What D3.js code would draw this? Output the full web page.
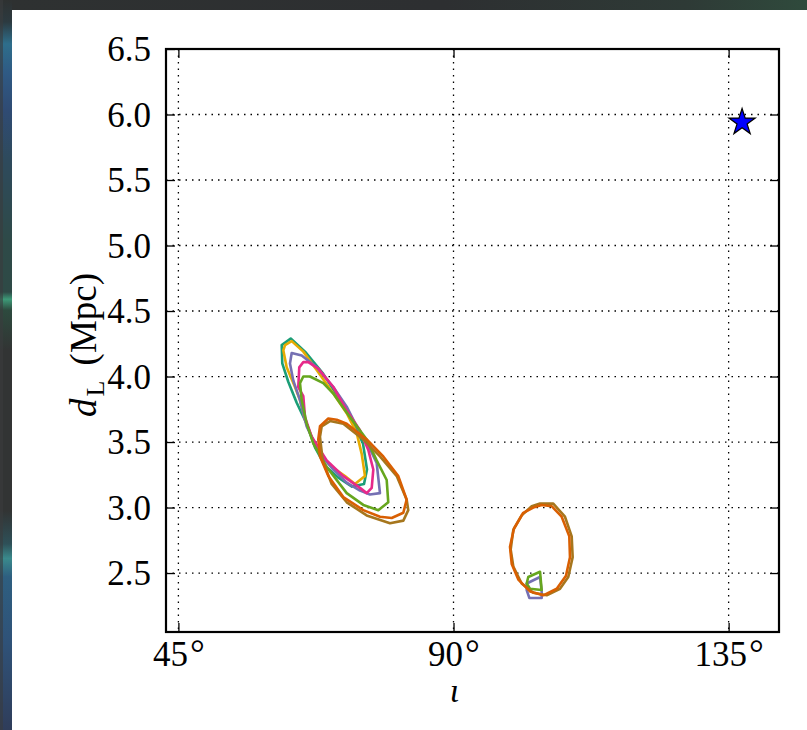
<!DOCTYPE html>
<html>
<head>
<meta charset="utf-8">
<script src="https://cdn.jsdelivr.net/npm/d3@7"></script>
<style>
  html, body { margin: 0; padding: 0; background: #fff; }
  svg { display: block; }
  svg text { font-family: "Liberation Serif", serif; }
</style>
</head>
<body>
<svg id="chart" width="807" height="730"></svg>
<script>
// Axis ticks
const xTicks = [45, 90, 135];            // inclination, degrees
const yTicks = [2.5, 3.0, 3.5, 4.0, 4.5, 5.0, 5.5, 6.0, 6.5]; // distance, Mpc

// Injected source position
const injection = [137.2, 5.94];

// Credible-region contours, [inclination (deg), d_L (Mpc)]
const tealRings = [[
  [63.37,4.29],[65.71,4.19],[68.70,4.02],[71.43,3.82],[73.39,3.67],[75.19,3.49],[75.85,3.29],
  [75.36,3.18],[73.39,3.16],[71.10,3.23],[68.98,3.32],[67.34,3.46],[65.98,3.64],[64.35,3.80],
  [62.97,3.96],[61.99,4.10],[61.90,4.24]
]];
const yellowRings = [[
  [63.53,4.27],[65.43,4.19],[67.62,4.05],[70.34,3.87],[72.53,3.72],[74.16,3.57],[74.98,3.41],
  [75.52,3.24],[73.88,3.18],[72.25,3.24],[70.07,3.31],[68.16,3.41],[66.80,3.54],[65.71,3.67],
  [64.89,3.82],[64.07,3.92],[62.71,4.07],[62.16,4.20],[62.44,4.24]
]];
const purpleRings = [[
  [63.53,4.18],[65.17,4.16],[67.62,4.07],[70.34,3.92],[72.53,3.77],[74.16,3.62],[76.01,3.48],
  [77.43,3.34],[77.97,3.11],[76.34,3.10],[74.70,3.13],[72.53,3.19],[70.34,3.29],[68.16,3.41],
  [65.98,3.62],[64.89,3.82],[63.79,3.97],[63.25,4.10]
], [
  [101.97,2.42],[104.15,2.47],[104.42,2.36],[104.42,2.31],[102.40,2.31],[101.97,2.37]
]];
const pinkRings = [[
  [65.43,4.11],[64.77,4.07],[64.61,3.92],[65.43,3.85],[65.71,3.69],[66.80,3.54],[69.26,3.36],
  [71.97,3.24],[74.70,3.15],[75.80,3.11],[76.62,3.15],[76.88,3.29],[76.06,3.44],[74.70,3.59],
  [72.53,3.74],[70.34,3.92],[67.88,4.06],[66.25,4.11]
]];
const greenRings = [[
  [65.43,4.00],[64.89,3.95],[65.17,3.82],[65.98,3.64],[67.06,3.49],[69.26,3.31],[72.53,3.11],
  [75.24,3.02],[77.70,2.98],[79.33,3.04],[79.07,3.21],[77.43,3.36],[75.80,3.52],[73.07,3.69],
  [70.34,3.87],[68.70,3.95],[66.52,4.00]
], [
  [102.23,2.47],[104.15,2.51],[104.42,2.37],[102.51,2.38],[101.97,2.42]
]];
const brownRings = [[
  [69.80,3.66],[68.44,3.62],[68.16,3.54],[68.60,3.36],[70.07,3.18],[72.53,3.04],[75.80,2.94],
  [79.61,2.88],[81.79,2.90],[82.60,2.98],[82.34,3.06],[80.71,3.24],[77.97,3.39],[75.24,3.52],
  [71.97,3.64]
], [
  [104.15,3.03],[106.32,3.03],[108.23,2.93],[109.33,2.78],[109.49,2.62],[108.77,2.47],[107.42,2.38],
  [105.24,2.33],[103.05,2.35],[101.15,2.42],[99.78,2.55],[99.35,2.68],[99.78,2.83],[101.15,2.94],
  [102.79,3.01]
]];
const orangeRings = [[
  [69.52,3.68],[68.16,3.62],[67.88,3.52],[68.16,3.39],[69.52,3.24],[71.97,3.08],[75.24,2.98],
  [77.97,2.93],[79.89,2.92],[81.79,2.96],[82.34,3.06],[80.97,3.24],[78.51,3.39],[75.80,3.52],
  [72.53,3.64],[70.89,3.67]
], [
  [104.42,3.02],[106.06,3.01],[107.69,2.93],[108.94,2.78],[109.05,2.62],[108.40,2.48],[106.88,2.38],
  [104.69,2.33],[102.51,2.36],[100.60,2.45],[99.52,2.57],[99.24,2.70],[99.89,2.84],[101.41,2.96],
  [103.05,3.00]
]];

const contourSeries = [
  { rings: tealRings,   color: "#1b9e77" },
  { rings: yellowRings, color: "#e6ab02" },
  { rings: purpleRings, color: "#7570b3" },
  { rings: pinkRings,   color: "#e7298a" },
  { rings: greenRings,  color: "#66a61e" },
  { rings: brownRings,  color: "#a6761d" },
  { rings: orangeRings, color: "#d95f02" }
];

const svg = d3.select("#chart");

// Dark surround along the top and left edges
const defs = svg.append("defs");
const edgeGrad = defs.append("linearGradient")
  .attr("id", "edgeGrad").attr("x1", 0).attr("y1", 0).attr("x2", 0).attr("y2", 1);
[
  [0.00, "#2e3131"], [0.03, "#2c3a40"], [0.06, "#2e6e8b"], [0.10, "#2f5a84"], [0.15, "#2f4b74"],
  [0.22, "#2e4a5c"], [0.33, "#2e4a48"], [0.40, "#2e4a46"], [0.41, "#3d9a78"], [0.425, "#2d4a3e"],
  [0.48, "#323434"], [0.70, "#323434"], [0.745, "#2e5058"], [0.765, "#3a8a8c"], [0.79, "#2e5f80"],
  [0.88, "#2f5278"], [1.00, "#2f3d5a"]
].forEach(([o, c]) => edgeGrad.append("stop").attr("offset", o).attr("stop-color", c));
const topGrad = defs.append("linearGradient")
  .attr("id", "topGrad").attr("x1", 0).attr("y1", 0).attr("x2", 1).attr("y2", 0);
[[0, "#2e3131"], [0.55, "#2d2f31"], [0.85, "#2e3a36"], [1, "#2f4a3c"]]
  .forEach(([o, c]) => topGrad.append("stop").attr("offset", o).attr("stop-color", c));

svg.append("rect").attr("x", 0).attr("y", 0).attr("width", 807).attr("height", 10)
  .attr("fill", "url(#topGrad)");
svg.append("rect").attr("x", 0).attr("y", 0).attr("width", 12).attr("height", 730)
  .attr("fill", "url(#edgeGrad)");
svg.append("rect").attr("x", 0).attr("y", 0).attr("width", 3).attr("height", 730)
  .attr("fill", "#3a3c3d").attr("opacity", 0.6);

// Plot area
const plot = { left: 166, top: 49, right: 779, bottom: 632 };
const rad2deg = 180 / Math.PI;
const x = d3.scaleLinear().domain([0.75 * rad2deg, 2.5 * rad2deg]).range([plot.left, plot.right]);
const y = d3.scaleLinear().domain([2.05, 6.5]).range([plot.bottom, plot.top]);

const serif = "Liberation Serif";

// Dotted grid
const grid = svg.append("g").attr("stroke", "#000").attr("stroke-width", 1.3)
  .attr("stroke-dasharray", "1.5,5").attr("fill", "none");
xTicks.forEach(t => grid.append("line")
  .attr("x1", x(t)).attr("x2", x(t)).attr("y1", plot.top).attr("y2", plot.bottom));
yTicks.forEach(t => grid.append("line")
  .attr("x1", plot.left).attr("x2", plot.right).attr("y1", y(t)).attr("y2", y(t)));

// Contours
const ringLine = d3.line().x(d => x(d[0])).y(d => y(d[1])).curve(d3.curveLinearClosed);
const contourG = svg.append("g").attr("fill", "none").attr("stroke-width", 2.6)
  .attr("stroke-linejoin", "round");
contourSeries.forEach(s => {
  contourG.selectAll(null).data(s.rings).enter().append("path")
    .attr("d", ringLine).attr("stroke", s.color);
});

// Injection marker
svg.append("path")
  .attr("d", d3.symbol().type(d3.symbolStar).size(215)())
  .attr("transform", `translate(${x(injection[0])},${y(injection[1])})`)
  .attr("fill", "#0000ff").attr("stroke", "#000").attr("stroke-width", 1.2)
  .attr("stroke-linejoin", "miter");

// Axes: inward ticks on all four sides, labels on bottom and left
const tickLen = 9;
const xAxisB = d3.axisBottom(x).tickValues(xTicks).tickSizeInner(-tickLen).tickSizeOuter(0)
  .tickFormat("");
const xAxisT = d3.axisTop(x).tickValues(xTicks).tickSizeInner(-tickLen).tickSizeOuter(0)
  .tickFormat("");
const yAxisL = d3.axisLeft(y).tickValues(yTicks).tickSizeInner(-tickLen).tickSizeOuter(0)
  .tickFormat(d3.format(".1f"));
const yAxisR = d3.axisRight(y).tickValues(yTicks).tickSizeInner(-tickLen).tickSizeOuter(0)
  .tickFormat("");

function styleAxis(g) {
  g.attr("font-family", serif).attr("font-size", 35);
  g.select(".domain").remove();
  g.selectAll(".tick line").attr("stroke", "#000").attr("stroke-width", 1.3);
  g.selectAll(".tick text").attr("fill", "#000");
}

// Bottom axis labels: number plus a math-style degree sign
svg.append("g").attr("transform", `translate(0,${plot.bottom})`).call(xAxisB).call(styleAxis)
  .call(g => g.selectAll(".tick text").each(function(d) {
    const t = d3.select(this).attr("y", 34).attr("dy", null).attr("font-size", 35);
    t.append("tspan").text(d);
    t.append("tspan").attr("dx", 2).attr("font-size", 37).text("°");
  }));
svg.append("g").attr("transform", `translate(0,${plot.top})`).call(xAxisT).call(styleAxis);
svg.append("g").attr("transform", `translate(${plot.left},0)`).call(yAxisL).call(styleAxis)
  .call(g => g.selectAll(".tick text").attr("x", -15).attr("dy", "0.34em"));
svg.append("g").attr("transform", `translate(${plot.right},0)`).call(yAxisR).call(styleAxis);

// Frame
svg.append("rect")
  .attr("x", plot.left).attr("y", plot.top)
  .attr("width", plot.right - plot.left).attr("height", plot.bottom - plot.top)
  .attr("fill", "none").attr("stroke", "#000").attr("stroke-width", 2.2);

// Axis titles
svg.append("text")
  .attr("x", (plot.left + plot.right) / 2 - 18).attr("y", 702)
  .attr("text-anchor", "middle")
  .attr("font-family", serif).attr("font-size", 34).attr("font-style", "italic")
  .text("ι");

const yTitle = svg.append("text")
  .attr("transform", "translate(96,345) rotate(-90)")
  .attr("text-anchor", "middle")
  .attr("font-family", serif).attr("font-size", 37);
yTitle.append("tspan").attr("font-style", "italic").text("d");
yTitle.append("tspan").attr("dx", 2).attr("dy", 8).attr("font-size", 26).text("L");
yTitle.append("tspan").attr("dx", 6).attr("dy", -8).text(" (Mpc)");
</script>
</body>
</html>
